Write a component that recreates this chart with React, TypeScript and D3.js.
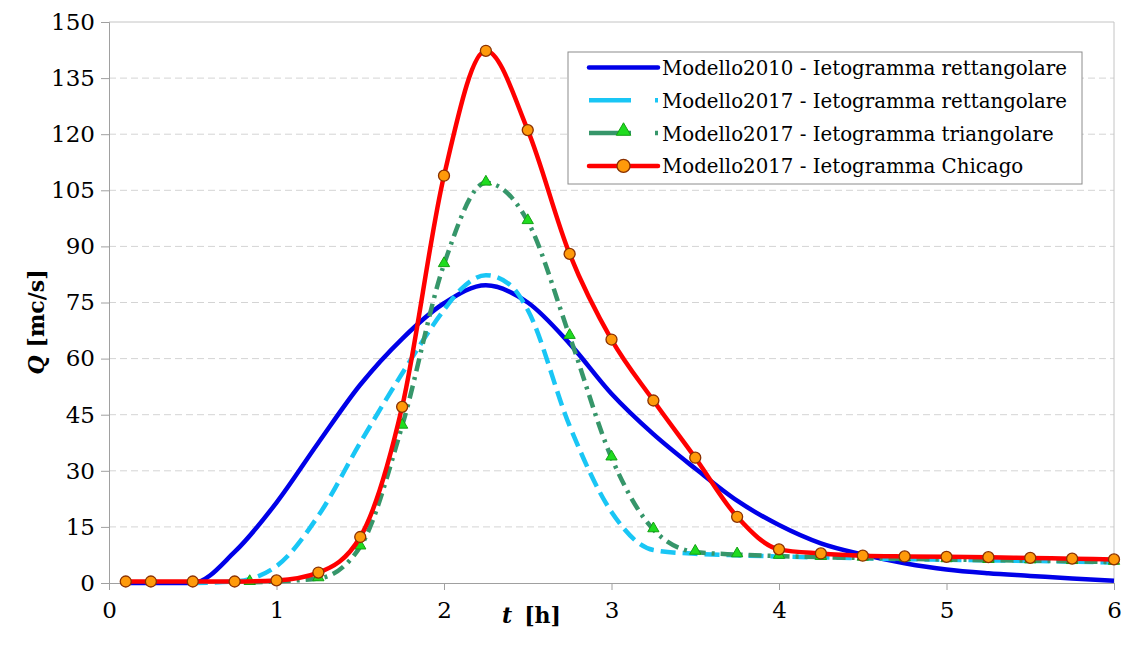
import React, { useEffect, useRef } from 'react';
import * as d3 from 'd3';

// ore [h] e portate [mc/s]
const modello2010: [number, number][] = [
  [0.1, 0], [0.25, 0], [0.5, 0], [0.75, 8.3], [1, 21.5], [1.25, 37.5], [1.5, 53],
  [1.75, 65.3], [2, 74.8], [2.25, 79.6], [2.5, 75], [2.75, 64], [3, 50.6],
  [3.25, 39.8], [3.5, 30.6], [3.75, 22], [4, 15.5], [4.25, 10.6], [4.5, 7.6],
  [4.75, 5.3], [5, 3.6], [5.25, 2.6], [5.5, 1.9], [5.75, 1.2], [6, 0.6],
];

const modello2017Rett: [number, number][] = [
  [0.5, 0], [0.75, 0.4], [1, 4.5], [1.25, 18], [1.5, 37.5], [1.75, 56], [2, 73],
  [2.1, 78.5], [2.25, 82.3], [2.4, 79.5], [2.5, 73], [2.75, 42], [3, 19],
  [3.25, 8.8], [3.5, 7.8], [3.75, 7.4], [4, 7.1], [4.5, 6.6], [5, 6.2],
  [5.5, 5.9], [6, 5.5],
];

const modello2017Triang: [number, number][] = [
  [0.84, 0.2], [1.25, 1.2], [1.5, 9.7], [1.75, 42], [2, 85.2], [2.25, 107],
  [2.5, 96.7], [2.75, 66], [3, 33.5], [3.25, 14.3], [3.5, 8.3], [3.75, 7.6],
  [4, 7.2], [4.25, 6.9], [4.5, 6.7], [4.75, 6.5], [5, 6.3], [5.25, 6.1],
  [5.5, 6], [5.75, 5.8], [6, 5.6],
];

const modello2017Chicago: [number, number][] = [
  [0.1, 0.4], [0.25, 0.4], [0.5, 0.4], [0.75, 0.4], [1, 0.7], [1.25, 2.8],
  [1.5, 12.3], [1.75, 47.1], [2, 108.9], [2.25, 142.3], [2.5, 121.1], [2.75, 88],
  [3, 65.1], [3.25, 48.8], [3.5, 33.5], [3.75, 17.7], [4, 9], [4.25, 7.9],
  [4.5, 7.3], [4.75, 7.1], [5, 7], [5.25, 6.9], [5.5, 6.7], [5.75, 6.5], [6, 6.3],
];

const xTicks = [0, 1, 2, 3, 4, 5, 6];
const yTicks = [0, 15, 30, 45, 60, 75, 90, 105, 120, 135, 150];

const legendLabels = [
  'Modello2010 - Ietogramma rettangolare',
  'Modello2017 - Ietogramma rettangolare',
  'Modello2017 - Ietogramma triangolare',
  'Modello2017 - Ietogramma Chicago',
];

// Liberation Serif non risulta disponibile: DejaVu Serif leggermente ridotto
const FONT = '"DejaVu Serif"';

function App() {
  const svgRef = useRef<SVGSVGElement>(null);

  useEffect(() => {
    const svg = d3.select(svgRef.current);
    svg.selectAll('*').remove();

    const x = d3.scaleLinear().domain([0, 6]).range([109, 1114]);
    const y = d3.scaleLinear().domain([0, 150]).range([583, 22]);

    // griglia orizzontale tratteggiata
    svg.append('g')
      .selectAll('line')
      .data(yTicks.filter(v => v > 0 && v < 150))
      .enter()
      .append('line')
      .attr('x1', x(0)).attr('x2', x(6))
      .attr('y1', d => y(d)).attr('y2', d => y(d))
      .attr('stroke', '#d4d4d4')
      .attr('stroke-dasharray', '7,4');

    // bordo superiore e destro dell'area del grafico
    svg.append('path')
      .attr('d', `M${x(0)},${y(150)}H${x(6)}V${y(0)}`)
      .attr('fill', 'none')
      .attr('stroke', '#c4c4c4');

    // assi
    const yAxis = svg.append('g').attr('transform', `translate(${x(0)},0)`)
      .call(d3.axisLeft(y).tickValues(yTicks).tickFormat(d3.format('d')).tickSize(8).tickPadding(6));
    const xAxis = svg.append('g').attr('transform', `translate(0,${y(0)})`)
      .call(d3.axisBottom(x).tickValues(xTicks).tickFormat(d3.format('d')).tickSize(7).tickPadding(16));
    [yAxis, xAxis].forEach(ax => {
      ax.attr('font-family', null).attr('font-size', null);
      ax.select('.domain').attr('stroke', '#a0a0a0');
      ax.selectAll('.tick line').attr('stroke', '#a0a0a0');
      ax.selectAll('.tick text')
        .attr('fill', '#000')
        .style('font-family', FONT)
        .style('font-size', '23px');
    });
    xAxis.selectAll('.tick text').attr('dy', '0.5em');

    const line = d3.line<[number, number]>()
      .x(d => x(d[0]))
      .y(d => y(d[1]))
      .curve(d3.curveMonotoneX);

    svg.append('path').datum(modello2010)
      .attr('d', line).attr('fill', 'none')
      .attr('stroke', '#0000e8').attr('stroke-width', 4.5);

    svg.append('path').datum(modello2017Rett)
      .attr('d', line).attr('fill', 'none')
      .attr('stroke', '#19c6f5').attr('stroke-width', 4.5)
      .attr('stroke-dasharray', '15,7');

    svg.append('path').datum(modello2017Triang)
      .attr('d', line).attr('fill', 'none')
      .attr('stroke', '#36966a').attr('stroke-width', 4.5)
      .attr('stroke-dasharray', '13,6,3,6');

    const triangle = d3.symbol().type(d3.symbolTriangle).size(55);
    svg.append('g').selectAll('path')
      .data(modello2017Triang)
      .enter()
      .append('path')
      .attr('d', triangle)
      .attr('transform', d => `translate(${x(d[0])},${y(d[1]) - 1})`)
      .attr('fill', '#1fdc1f')
      .attr('stroke', '#14a014')
      .attr('stroke-width', 1);

    svg.append('path').datum(modello2017Chicago)
      .attr('d', line).attr('fill', 'none')
      .attr('stroke', '#ff0000').attr('stroke-width', 4.5);

    svg.append('g').selectAll('circle')
      .data(modello2017Chicago)
      .enter()
      .append('circle')
      .attr('cx', d => x(d[0]))
      .attr('cy', d => y(d[1]))
      .attr('r', 5.5)
      .attr('fill', '#ff9a0a')
      .attr('stroke', '#8a3000')
      .attr('stroke-width', 1.3);

    // titoli degli assi
    svg.append('text')
      .attr('transform', 'translate(44,322) rotate(-90)')
      .attr('text-anchor', 'middle')
      .style('font-family', FONT)
      .style('font-size', '22px')
      .style('font-weight', 'bold')
      .call(t => {
        t.append('tspan').style('font-style', 'italic').text('Q');
        t.append('tspan').attr('dx', 8).text('[mc/s]');
      });

    svg.append('text')
      .attr('x', 502).attr('y', 623)
      .style('font-family', FONT)
      .style('font-size', '22px')
      .style('font-weight', 'bold')
      .call(t => {
        t.append('tspan').style('font-style', 'italic').text('t');
        t.append('tspan').attr('dx', 12).text('[h]');
      });

    // legenda
    const legend = svg.append('g');
    legend.append('rect')
      .attr('x', 568).attr('y', 52).attr('width', 514).attr('height', 132)
      .attr('fill', '#fff').attr('stroke', '#8c8c8c');

    const rowY = (i: number) => 67.5 + i * 32.8;
    const sx1 = 589, sx2 = 658, sxc = (sx1 + sx2) / 2;

    legend.append('line')
      .attr('x1', sx1).attr('x2', sx2).attr('y1', rowY(0)).attr('y2', rowY(0))
      .attr('stroke', '#0000e8').attr('stroke-width', 4.5).attr('stroke-linecap', 'round');
    legend.append('line')
      .attr('x1', sx1).attr('x2', sx2).attr('y1', rowY(1)).attr('y2', rowY(1))
      .attr('stroke', '#19c6f5').attr('stroke-width', 4.5).attr('stroke-dasharray', '42,24');
    legend.append('line')
      .attr('x1', sx1).attr('x2', sx2).attr('y1', rowY(2)).attr('y2', rowY(2))
      .attr('stroke', '#36966a').attr('stroke-width', 4.5).attr('stroke-dasharray', '42,24');
    legend.append('path')
      .attr('d', d3.symbol().type(d3.symbolTriangle).size(90))
      .attr('transform', `translate(${sxc},${rowY(2) - 2})`)
      .attr('fill', '#1fdc1f').attr('stroke', '#14a014');
    legend.append('line')
      .attr('x1', sx1).attr('x2', sx2).attr('y1', rowY(3)).attr('y2', rowY(3))
      .attr('stroke', '#ff0000').attr('stroke-width', 4.5).attr('stroke-linecap', 'round');
    legend.append('circle')
      .attr('cx', sxc).attr('cy', rowY(3)).attr('r', 6.5)
      .attr('fill', '#ff9a0a').attr('stroke', '#8a3000').attr('stroke-width', 1.3);

    legend.selectAll('text.lbl')
      .data(legendLabels)
      .enter()
      .append('text')
      .attr('class', 'lbl')
      .attr('x', 662)
      .attr('y', (d, i) => rowY(i) + 7.5)
      .style('font-family', FONT)
      .style('font-size', '19.8px')
      .text(d => d);
  }, []);

  return (
    <div style={{ position: 'absolute', left: 0, top: 0, background: '#fff' }}>
      <svg ref={svgRef} width={1128} height={647} />
    </div>
  );
}

export default App;
